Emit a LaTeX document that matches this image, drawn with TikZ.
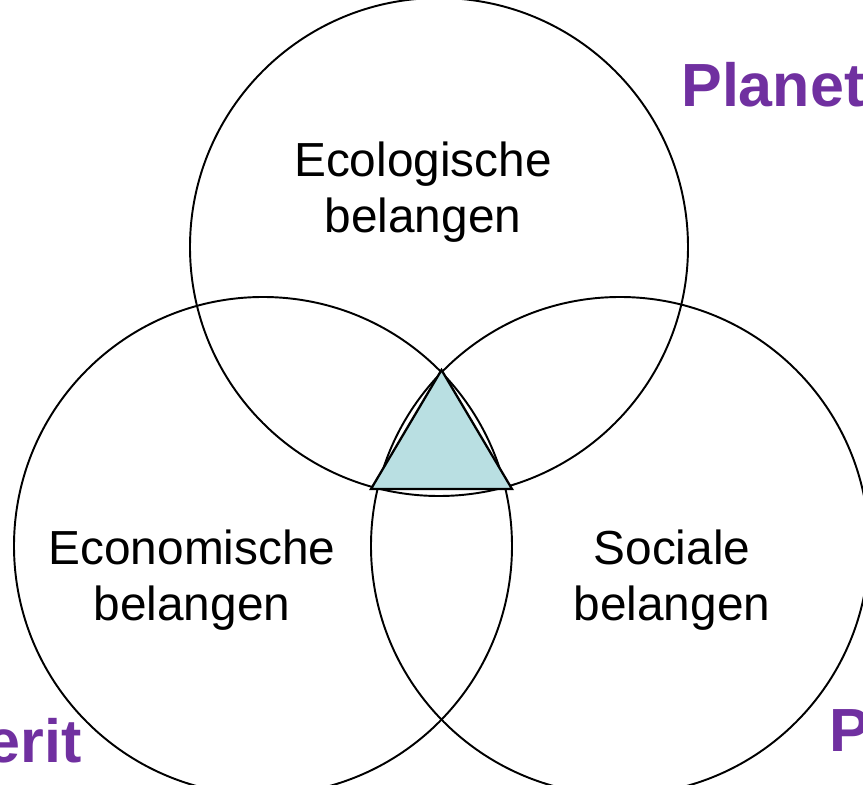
\documentclass[tikz,border=0pt]{standalone}
\usepackage{fontspec}
\setmainfont{Liberation Sans}
\usepackage{xcolor}
\definecolor{ppppurple}{RGB}{112,48,160}
\definecolor{corefill}{RGB}{185,223,226}

\begin{document}
\begin{tikzpicture}[x=0.02cm,y=0.02cm,
  belang/.style={align=center,font=\fontsize{27.2}{31.5}\selectfont},
  ppp/.style={text=ppppurple,inner sep=0pt,font=\fontsize{34.7}{40}\selectfont\bfseries}]
\path[use as bounding box] (0,0) rectangle (863,785);
\clip (0,0) rectangle (863,785);
% de drie cirkels
\draw[line width=1.1pt] (439,538) circle (249);
\draw[line width=1.1pt] (263,239) circle (249);
\draw[line width=1.1pt] (620,239) circle (249);
% driehoek in het midden
\draw[fill=corefill,line width=1.3pt,line join=miter] (441.5,415) -- (371,296) -- (512,296) -- cycle;
% teksten
\node[belang] (eco) at (423,593) {Ecologische\\belangen};
\node[belang] (econ) at (192,205) {Economische\\belangen};
\node[belang] (soc) at (672,205) {Sociale\\belangen};
\node[ppp,anchor=base west] (planet) at (681,678) {Planet};
\node[ppp,anchor=base east] (prof) at (82,22) {erit};
\node[ppp,anchor=base west] (people) at (829,33) {P};
\end{tikzpicture}
\end{document}
